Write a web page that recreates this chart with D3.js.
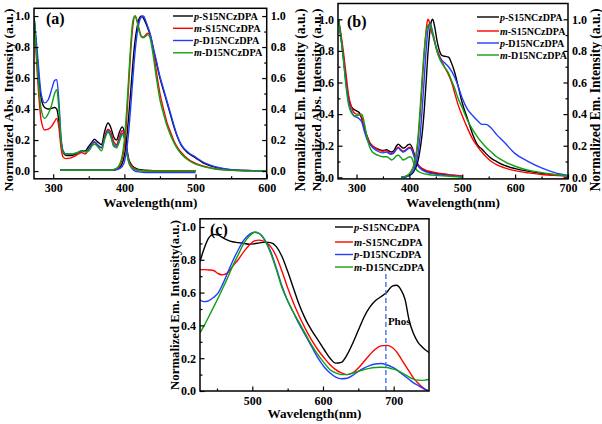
<!DOCTYPE html>
<html><head><meta charset="utf-8">
<script src="https://cdn.jsdelivr.net/npm/d3@7"></script>
<style>
body{margin:0;background:#fff}
text{font-family:"Liberation Serif","Times New Roman",serif;font-weight:bold;fill:#000}
</style>
</head><body>
<svg id="chart" width="602" height="424"></svg>
<script>
// ---------- series names & colours ----------
const seriesNames = [["p","-S15NCzDPA"],["m","-S15NCzDPA"],["p","-D15NCzDPA"],["m","-D15NCzDPA"]];
const seriesColors = ["#000000","#ff0000","#1f3cff","#10a010"];

// ---------- panel (a): absorption ----------
const aAbsWl = [273,278,283,288,293,298,302,305,308,311,314,318,325,332,340,345,350,355,358,362,368,372,377,381,385,389,393,397,400,403,406,410,415,420,430,450,475,500];
const aAbsPS = [1.0,0.7,0.47,0.41,0.40,0.405,0.41,0.40,0.32,0.19,0.12,0.10,0.10,0.11,0.13,0.13,0.16,0.19,0.205,0.19,0.17,0.25,0.31,0.28,0.22,0.20,0.25,0.285,0.25,0.16,0.08,0.04,0.02,0.01,0.005,0,0,0];
const aAbsMS = [1.0,0.6,0.33,0.265,0.27,0.29,0.32,0.34,0.28,0.15,0.09,0.08,0.085,0.1,0.12,0.11,0.14,0.175,0.185,0.17,0.15,0.22,0.27,0.25,0.19,0.17,0.22,0.26,0.23,0.15,0.07,0.035,0.015,0.005,0,0,0,0];
const aAbsPD = [1.0,0.75,0.5,0.44,0.46,0.53,0.585,0.59,0.45,0.22,0.13,0.11,0.11,0.115,0.13,0.125,0.14,0.18,0.19,0.17,0.15,0.21,0.26,0.23,0.17,0.16,0.2,0.245,0.22,0.14,0.06,0.02,0.0,-0.005,-0.01,-0.01,-0.01,-0.01];
const aAbsMD = [1.0,0.65,0.4,0.34,0.37,0.43,0.5,0.525,0.4,0.2,0.12,0.11,0.11,0.115,0.13,0.125,0.13,0.165,0.175,0.16,0.13,0.2,0.25,0.22,0.16,0.15,0.19,0.235,0.21,0.13,0.06,0.025,0.01,0.005,0,0,0,0];
// ---------- panel (a): emission ----------
const aEmWl = [310,350,380,388,393,397,400,403,406,409,412,415,418,421,424,427,430,433,436,440,445,450,455,460,465,470,475,480,490,500,510,520,530,545,560,580,600];
const aEmPS = [0.005,0.005,0.005,0.01,0.02,0.05,0.1,0.2,0.35,0.52,0.7,0.84,0.93,0.985,1.0,0.985,0.955,0.92,0.88,0.8,0.7,0.6,0.52,0.44,0.36,0.28,0.215,0.165,0.115,0.085,0.055,0.035,0.022,0.011,0.005,0.003,0.0];
const aEmMS = [0.005,0.005,0.005,0.01,0.03,0.08,0.16,0.32,0.55,0.78,0.94,1.0,0.97,0.91,0.87,0.865,0.88,0.89,0.88,0.8,0.64,0.5,0.4,0.31,0.25,0.19,0.15,0.12,0.075,0.05,0.033,0.022,0.014,0.007,0.003,0.001,0.0];
const aEmPD = [0.005,0.005,0.005,0.008,0.015,0.03,0.06,0.13,0.25,0.42,0.6,0.77,0.89,0.965,0.995,1.0,0.97,0.93,0.89,0.81,0.71,0.61,0.53,0.45,0.37,0.29,0.22,0.17,0.12,0.09,0.06,0.04,0.025,0.012,0.006,0.003,0.0];
const aEmMD = [0.005,0.005,0.005,0.015,0.04,0.1,0.2,0.38,0.6,0.82,0.97,1.0,0.96,0.9,0.865,0.86,0.87,0.88,0.86,0.76,0.6,0.46,0.37,0.29,0.23,0.18,0.14,0.11,0.07,0.045,0.03,0.02,0.012,0.006,0.003,0.001,0.0];

// ---------- panel (b): absorption ----------
const bAbsWl = [266,270,275,280,285,290,295,300,305,310,315,320,325,330,340,350,357,362,366,371,375,379,384,388,392,397,401,405,409,413,418,425,435,450,470,500];
const bAbsPS = [1.0,0.9,0.77,0.62,0.5,0.45,0.43,0.42,0.41,0.37,0.31,0.26,0.22,0.2,0.18,0.17,0.175,0.165,0.16,0.17,0.195,0.21,0.195,0.185,0.19,0.205,0.21,0.19,0.15,0.1,0.07,0.05,0.035,0.025,0.015,0.005];
const bAbsMS = [1.0,0.92,0.8,0.66,0.52,0.45,0.41,0.4,0.4,0.38,0.31,0.26,0.22,0.2,0.175,0.165,0.17,0.155,0.15,0.16,0.18,0.19,0.175,0.165,0.17,0.185,0.19,0.18,0.14,0.1,0.075,0.055,0.04,0.03,0.02,0.008];
const bAbsPD = [1.0,0.9,0.76,0.6,0.48,0.42,0.39,0.38,0.37,0.35,0.29,0.24,0.21,0.19,0.165,0.155,0.16,0.15,0.145,0.155,0.175,0.185,0.17,0.16,0.165,0.18,0.185,0.17,0.13,0.09,0.065,0.045,0.03,0.02,0.012,0.004];
const bAbsMD = [1.0,0.9,0.75,0.58,0.46,0.41,0.39,0.39,0.395,0.4,0.34,0.25,0.19,0.16,0.14,0.13,0.13,0.12,0.11,0.12,0.135,0.14,0.125,0.11,0.115,0.125,0.13,0.12,0.08,0.05,0.035,0.025,0.018,0.012,0.008,0.0];
// ---------- panel (b): emission ----------
const bEmWl = [385,395,402,408,412,416,420,424,428,432,435,438,441,444,448,452,457,462,468,474,480,486,492,500,510,520,530,537,545,555,565,580,600,625,650,675,700];
const bEmPS = [0,0.005,0.015,0.035,0.06,0.1,0.17,0.27,0.42,0.62,0.78,0.9,0.98,1.0,0.95,0.87,0.8,0.77,0.765,0.76,0.72,0.66,0.58,0.47,0.37,0.27,0.2,0.18,0.15,0.12,0.1,0.075,0.055,0.038,0.025,0.016,0.01];
const bEmMS = [0,0.01,0.03,0.07,0.12,0.22,0.38,0.58,0.78,0.94,1.0,0.98,0.93,0.9,0.85,0.81,0.77,0.73,0.69,0.65,0.6,0.53,0.46,0.39,0.31,0.24,0.19,0.16,0.13,0.1,0.08,0.06,0.042,0.028,0.018,0.012,0.008];
const bEmPD = [0,0.005,0.02,0.045,0.08,0.14,0.25,0.42,0.62,0.82,0.93,0.97,0.96,0.92,0.86,0.8,0.76,0.74,0.72,0.7,0.67,0.63,0.58,0.5,0.43,0.39,0.355,0.335,0.335,0.31,0.27,0.22,0.15,0.1,0.06,0.03,0.012];
const bEmMD = [0,0.01,0.03,0.07,0.13,0.24,0.42,0.62,0.8,0.92,0.96,0.97,0.95,0.91,0.86,0.8,0.75,0.72,0.69,0.66,0.61,0.56,0.5,0.44,0.36,0.3,0.25,0.22,0.19,0.16,0.13,0.1,0.07,0.045,0.03,0.018,0.01];

// ---------- panel (c): emission ----------
const cWl = [426,432,438,445,452,458,465,472,480,488,496,503,510,518,526,534,542,550,558,566,575,584,593,602,610,618,626,634,642,650,658,666,674,682,690,698,704,710,716,722,728,734,740,745,750];
const cPS = [0.79,0.87,0.93,0.955,0.95,0.935,0.92,0.91,0.905,0.9,0.895,0.898,0.903,0.908,0.905,0.88,0.82,0.73,0.63,0.53,0.44,0.37,0.31,0.25,0.2,0.17,0.175,0.22,0.29,0.37,0.45,0.51,0.55,0.575,0.6,0.64,0.645,0.62,0.56,0.43,0.35,0.3,0.27,0.25,0.235];
const cMS = [0.74,0.74,0.738,0.735,0.715,0.708,0.72,0.76,0.8,0.85,0.89,0.915,0.92,0.91,0.88,0.82,0.73,0.63,0.54,0.46,0.38,0.31,0.25,0.2,0.16,0.13,0.11,0.1,0.11,0.14,0.18,0.22,0.255,0.275,0.278,0.265,0.24,0.2,0.16,0.12,0.08,0.05,0.025,0.01,0.0];
const cPD = [0.555,0.545,0.55,0.57,0.6,0.65,0.72,0.79,0.86,0.92,0.955,0.968,0.96,0.92,0.85,0.75,0.64,0.55,0.48,0.41,0.34,0.27,0.2,0.145,0.11,0.085,0.075,0.078,0.095,0.12,0.14,0.155,0.165,0.168,0.16,0.145,0.13,0.11,0.09,0.07,0.05,0.035,0.02,0.008,0.0];
const cMD = [0.355,0.4,0.45,0.51,0.57,0.625,0.69,0.76,0.83,0.9,0.945,0.968,0.96,0.915,0.84,0.74,0.63,0.55,0.48,0.42,0.35,0.28,0.22,0.17,0.13,0.11,0.1,0.1,0.11,0.12,0.13,0.138,0.143,0.145,0.143,0.135,0.128,0.115,0.1,0.085,0.072,0.066,0.065,0.067,0.07];
const phosWl = 689, phosTop = 0.72;

// ---------- tick values ----------
const yMajor = [0,0.2,0.4,0.6,0.8,1.0];
const yMinor = [0.1,0.3,0.5,0.7,0.9];
const aXMajor = [300,400,500,600], aXMinor = [350,450,550];
const bXMajor = [300,400,500,600,700], bXMinor = [350,450,550,650];
const cXMajor = [500,600,700], cXMinor = [450,550,650];

const svg = d3.select("#chart");
svg.append("rect").attr("width",602).attr("height",424).attr("fill","#fff");
let clipId = 0;

function fitText(t, w){
  const L = t.node().getComputedTextLength();
  const fs = parseFloat(t.attr("font-size"));
  t.attr("font-size", (fs*w/L).toFixed(2));
}

function panel(o){
  const x = d3.scaleLinear().domain(o.xd).range(o.xr);
  const y = d3.scaleLinear().domain(o.yd).range(o.yr);
  const g = svg.append("g");
  const id = "clip"+(clipId++);
  g.append("clipPath").attr("id",id).append("rect")
    .attr("x",o.xr[0]).attr("y",o.yr[1]).attr("width",o.xr[1]-o.xr[0]).attr("height",o.yr[0]-o.yr[1]);
  const line = d3.line().x(d=>x(d[0])).y(d=>y(d[1])).curve(d3.curveMonotoneX);
  const lg = g.append("g").attr("clip-path",`url(#${id})`);
  o.groups.forEach(grp=>{
    grp.vals.forEach((vals,i)=>{
      lg.append("path").datum(grp.wl.map((w,k)=>[w,vals[k]]))
        .attr("d",line).attr("fill","none").attr("stroke",seriesColors[i]).attr("stroke-width",1.4);
    });
  });
  if(o.extra) o.extra(g,x,y);
  const fmt = d3.format(".1f");
  const bottom = y.range()[0];
  const axB = g.append("g").attr("transform",`translate(0,${bottom})`)
    .call(d3.axisBottom(x).tickValues(o.xMajor).tickSizeInner(-4.5).tickSizeOuter(0).tickPadding(5).tickFormat(d3.format("d")));
  const axBm = g.append("g").attr("transform",`translate(0,${bottom})`)
    .call(d3.axisBottom(x).tickValues(o.xMinor).tickSizeInner(-2.5).tickSizeOuter(0).tickFormat(""));
  const axL = g.append("g").attr("transform",`translate(${o.xr[0]},0)`)
    .call(d3.axisLeft(y).tickValues(yMajor).tickSizeInner(-4.5).tickSizeOuter(0).tickPadding(4).tickFormat(fmt));
  const axLm = g.append("g").attr("transform",`translate(${o.xr[0]},0)`)
    .call(d3.axisLeft(y).tickValues(yMinor).tickSizeInner(-2.5).tickSizeOuter(0).tickFormat(""));
  const axes=[axB,axBm,axL,axLm];
  if(o.right){
    axes.push(g.append("g").attr("transform",`translate(${o.xr[1]},0)`)
      .call(d3.axisRight(y).tickValues(yMajor).tickSizeInner(-4.5).tickSizeOuter(0).tickPadding(4).tickFormat(fmt)));
    axes.push(g.append("g").attr("transform",`translate(${o.xr[1]},0)`)
      .call(d3.axisRight(y).tickValues(yMinor).tickSizeInner(-2.5).tickSizeOuter(0).tickFormat("")));
  }
  axes.forEach(a=>{
    a.select(".domain").remove();
    a.selectAll("line").attr("stroke","#000").attr("stroke-width",1.2);
    a.selectAll("text").attr("font-size",12).attr("font-family",null).style("font-family",'"Liberation Serif",serif').style("font-weight","bold");
  });
  g.append("rect").attr("x",o.xr[0]).attr("y",o.yr[1]).attr("width",o.xr[1]-o.xr[0]).attr("height",o.yr[0]-o.yr[1])
    .attr("fill","none").attr("stroke","#000").attr("stroke-width",1.5);
  // legend
  seriesNames.forEach((s,i)=>{
    const ly = o.leg.y[i];
    g.append("line").attr("x1",o.leg.x1).attr("x2",o.leg.x2).attr("y1",ly).attr("y2",ly)
      .attr("stroke",seriesColors[i]).attr("stroke-width",1.4);
    const t = g.append("text").attr("x",o.leg.x2+1).attr("y",ly+3.6).attr("font-size",o.leg.fs);
    t.append("tspan").attr("font-style","italic").text(s[0]);
    t.append("tspan").text(s[1]);
  });
  g.append("text").attr("x",o.lab.x).attr("y",o.lab.y).attr("font-size",16).text(o.lab.t);
  const xt = g.append("text").attr("x",(o.xr[0]+o.xr[1])/2).attr("y",o.xt.y).attr("text-anchor","middle").attr("font-size",14).text("Wavelength(nm)");
  fitText(xt, o.xt.w);
  o.yt.forEach(d=>{
    const t = g.append("text").attr("transform",`translate(${d.x},${d.cy}) rotate(-90)`).attr("text-anchor","middle").attr("font-size",13).text(d.t);
    fitText(t, d.w);
  });
}

panel({
  xd:[273,600], xr:[34,266.7], yd:[-0.05,1.05], yr:[178.8,8.3], right:true,
  xMajor:aXMajor, xMinor:aXMinor,
  groups:[{wl:aAbsWl, vals:[aAbsPS,aAbsMS,aAbsPD,aAbsMD]},{wl:aEmWl, vals:[aEmPS,aEmMS,aEmPD,aEmMD]}],
  leg:{x1:173,x2:193,y:[16,28.3,40.5,52.8],fs:10.2},
  lab:{x:46,y:23.5,t:"(a)"},
  xt:{y:207,w:94},
  yt:[{x:12.5,cy:100,w:183,t:"Normalized Abs. Intensity (a.u.)"},{x:304.5,cy:100,w:183,t:"Normalized Em. Intensity (a.u.)"}]
});
panel({
  xd:[265,700], xr:[338,568], yd:[-0.01,1.1], yr:[178.9,3.5], right:true,
  xMajor:bXMajor, xMinor:bXMinor,
  groups:[{wl:bAbsWl, vals:[bAbsPS,bAbsMS,bAbsPD,bAbsMD]},{wl:bEmWl, vals:[bEmPS,bEmMS,bEmPD,bEmMD]}],
  leg:{x1:477,x2:499,y:[17,31,43,55],fs:10},
  lab:{x:347,y:27,t:"(b)"},
  xt:{y:207,w:94},
  yt:[{x:320.5,cy:100,w:183,t:"Normalized Abs. Intensity (a.u.)"},{x:600,cy:100,w:183,t:"Normalized Em. Intensity (a.u.)"}]
});
panel({
  xd:[426,750], xr:[200,429], yd:[0,1.05], yr:[391,218.8], right:false,
  xMajor:cXMajor, xMinor:cXMinor,
  groups:[{wl:cWl, vals:[cPS,cMS,cPD,cMD]}],
  leg:{x1:335,x2:353,y:[227,242,254.5,267],fs:10.5},
  lab:{x:210,y:235,t:"(c)"},
  xt:{y:418,w:94},
  yt:[{x:178.5,cy:305,w:170,t:"Normalized Em. Intensity(a.u.)"}],
  extra:(g,x,y)=>{
    g.append("line").attr("x1",x(phosWl)).attr("x2",x(phosWl)).attr("y1",y(0)).attr("y2",y(phosTop))
      .attr("stroke","#4a6ee8").attr("stroke-width",1.4).attr("stroke-dasharray","5,3");
    g.append("text").attr("x",x(phosWl)+2).attr("y",y(0.4)).attr("font-size",11).text("Phos");
  }
});
</script>
</body></html>
